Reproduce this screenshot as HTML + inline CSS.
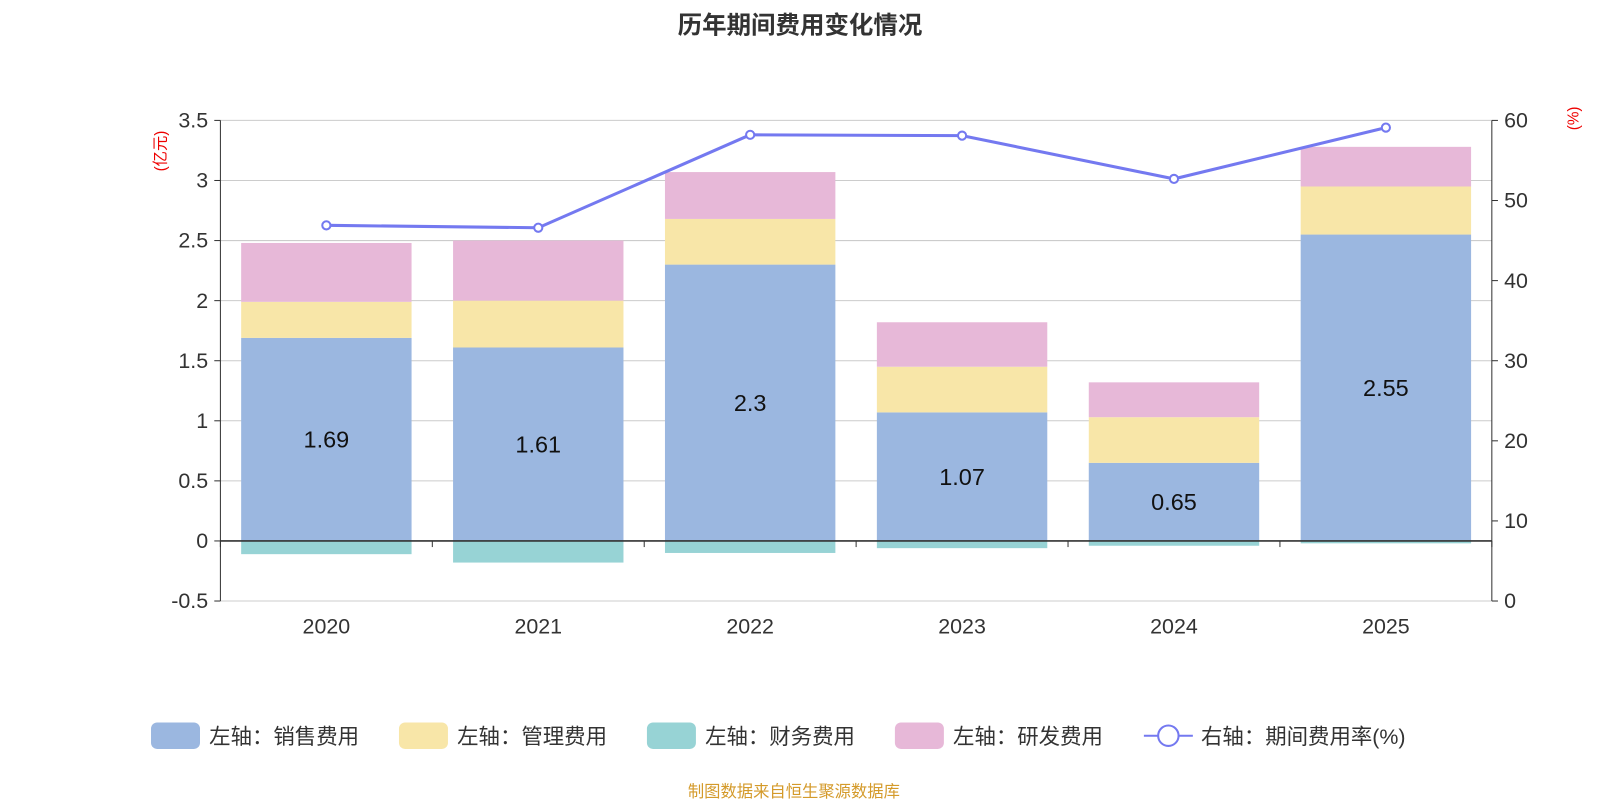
<!DOCTYPE html>
<html><head><meta charset="utf-8">
<style>
html,body{margin:0;padding:0;background:#fff;}
svg{display:block;font-family:"Liberation Sans","Noto Sans CJK SC",sans-serif;}
</style></head>
<body>
<svg id="chart" width="1600" height="800" viewBox="0 0 1568 784" xmlns="http://www.w3.org/2000/svg">
<text x="784" y="33" text-anchor="middle" font-size="24" font-weight="bold" fill="#333">历年期间费用变化情况</text>
<text transform="translate(162,148) rotate(-90)" text-anchor="middle" font-size="15" fill="#e00">(亿元)</text>
<text transform="translate(1547,116) rotate(-90)" text-anchor="middle" font-size="15" fill="#e00">(%)</text>
<g id="grid"></g><g id="bars"></g><g id="axes"></g><g id="line"></g>
<g id="legend" font-size="21" fill="#333">
 <g><rect x="148" y="708" width="48" height="26" rx="6" fill="#9bb7e0"/><text x="205" y="729">左轴：销售费用</text></g>
 <g><rect x="391" y="708" width="48" height="26" rx="6" fill="#f8e6a8"/><text x="448" y="729">左轴：管理费用</text></g>
 <g><rect x="634" y="708" width="48" height="26" rx="6" fill="#97d3d5"/><text x="691" y="729">左轴：财务费用</text></g>
 <g><rect x="877" y="708" width="48" height="26" rx="6" fill="#e7b8d8"/><text x="934" y="729">左轴：研发费用</text></g>
 <g><line x1="1121" y1="721" x2="1169" y2="721" stroke="#7479f0" stroke-width="2"/><circle cx="1145" cy="721" r="10" fill="#fff" stroke="#7479f0" stroke-width="2"/><text x="1177" y="729">右轴：期间费用率(%)</text></g>
</g>
<text x="778" y="781" text-anchor="middle" font-size="16" fill="#d49a2a">制图数据来自恒生聚源数据库</text>
</svg>
<script>
const categories=["2020","2021","2022","2023","2024","2025"];
const sales=[1.69,1.61,2.3,1.07,0.65,2.55];
const admin=[0.30,0.39,0.38,0.38,0.38,0.40];
const finance=[-0.11,-0.18,-0.10,-0.06,-0.04,-0.02];
const rd=[0.49,0.50,0.39,0.37,0.29,0.33];
const rate=[46.9,46.6,58.2,58.1,52.7,59.1];
const leftTicks=[-0.5,0,0.5,1,1.5,2,2.5,3,3.5];
const rightTicks=[0,10,20,30,40,50,60];

const NS="http://www.w3.org/2000/svg";
const X0=216,X1=1462,YT=118,YB=589;
const yL=v=>YB-(v+0.5)/4*(YB-YT);
const yR=v=>YB-v/60*(YB-YT);
const band=(X1-X0)/categories.length;
const xC=i=>X0+band*(i+0.5);
const BW=167;
function mk(tag,attrs,parent,txt){const e=document.createElementNS(NS,tag);for(const k in attrs)e.setAttribute(k,attrs[k]);if(txt!==undefined)e.textContent=txt;document.getElementById(parent).appendChild(e);return e;}

leftTicks.forEach(t=>{
 const g=mk('line',{x1:X0,x2:X1,y1:yL(t),y2:yL(t),stroke:'#ccc','stroke-width':1},'grid');
 
 
 const l=mk('text',{x:X0-12,y:yL(t)+7,'text-anchor':'end','font-size':21,fill:'#333'},'axes',String(t));
 
 
 mk('line',{x1:X0-6,x2:X0,y1:yL(t),y2:yL(t),stroke:'#333'},'axes');
});
rightTicks.forEach(t=>{
 const l=mk('text',{x:X1+12,y:yR(t)+7,'font-size':21,fill:'#333'},'axes',String(t));
 
 
 mk('line',{x1:X1,x2:X1+6,y1:yR(t),y2:yR(t),stroke:'#333'},'axes');
});
mk('line',{x1:X0,x2:X0,y1:YT,y2:YB,stroke:'#333'},'axes');
mk('line',{x1:X1,x2:X1,y1:YT,y2:YB,stroke:'#333'},'axes');
mk('line',{x1:X0,x2:X1,y1:yL(0),y2:yL(0),stroke:'#333','stroke-width':1.5},'axes');
for(let i=0;i<=categories.length;i++)mk('line',{x1:X0+band*i,x2:X0+band*i,y1:yL(0),y2:yL(0)+6,stroke:'#333'},'axes');

categories.forEach((c,i)=>{
 const x=xC(i)-BW/2;
 const s=mk('rect',{x:x,width:BW,y:yL(sales[i]),height:yL(0)-yL(sales[i]),fill:'#9bb7e0'},'bars');
 
 
 const a=mk('rect',{x:x,width:BW,y:yL(sales[i]+admin[i]),height:yL(sales[i])-yL(sales[i]+admin[i]),fill:'#f8e6a8'},'bars');
 
 
 const top=sales[i]+admin[i]+rd[i];
 const r=mk('rect',{x:x,width:BW,y:yL(top),height:yL(sales[i]+admin[i])-yL(top),fill:'#e7b8d8'},'bars');
 
 
 const f=mk('rect',{x:x,width:BW,y:yL(0),height:yL(finance[i])-yL(0),fill:'#97d3d5'},'bars');
 
 
 const v=mk('text',{x:xC(i),y:(yL(0)+yL(sales[i]))/2+8,'text-anchor':'middle','font-size':23,fill:'#111'},'bars',String(sales[i]));
 
 
 const xl=mk('text',{x:xC(i),y:621,'text-anchor':'middle','font-size':21,fill:'#333'},'axes',c);
 
 
});
const pts=rate.map((v,i)=>xC(i)+','+yR(v)).join(' ');
const pl=mk('polyline',{points:pts,fill:'none',stroke:'#7479f0','stroke-width':3},'line');


rate.forEach((v,i)=>{
 const p=mk('circle',{cx:xC(i),cy:yR(v),r:4,fill:'#fff',stroke:'#7479f0','stroke-width':2},'line');
 
 
});
</script>
</body></html>
